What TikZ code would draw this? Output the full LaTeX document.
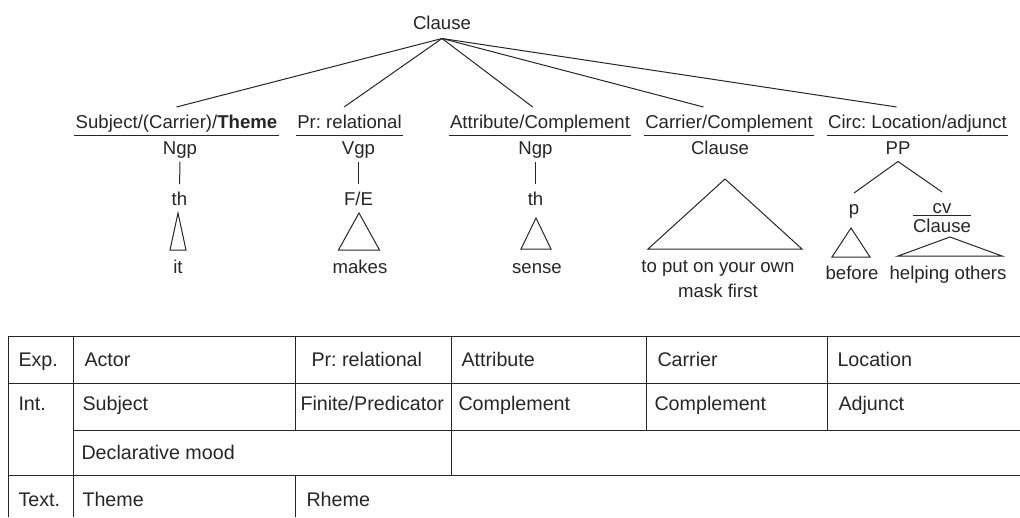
\documentclass[tikz,border=0pt]{standalone}
\usepackage{fontspec}
\setmainfont{Liberation Sans}
\usetikzlibrary{calc,positioning}
\frenchspacing

% roof triangle: apex x, apex y, half base, height
\newcommand{\roof}[4]{\draw (#1,#2) -- ++(-#3,#4) -- ++(2*#3,0) -- cycle;}

\begin{document}
\begin{tikzpicture}[
x=1pt,y=-1pt,
line width=1pt,draw=black!85,
tree/.style={font=\fontsize{18.6}{23}\selectfont,text=black!85,anchor=base,text height=13.5pt},
fn/.style={tree,text depth=0pt,inner xsep=1pt,inner ysep=7pt},
cls/.style={tree,text depth=4pt,inner xsep=0pt,inner ysep=3pt},
leaf/.style={tree,text depth=4pt,inner ysep=7pt},
word/.style={tree,text depth=4pt},
cell/.style={font=\fontsize{19.7}{23}\selectfont,text=black!85,anchor=base west,inner sep=0pt},
]
\useasboundingbox (0,0) rectangle (1020,517);

% tree
\node[cls,inner ysep=5pt] (root) at (442,29) {Clause};
\node[fn] (subj) at (176.5,128) {Subject/(Carrier)/\textbf{Theme}};
\node[fn] (pr) at (349.5,128) {Pr: relational};
\node[fn] (attr) at (540,128) {Attribute/Complement};
\node[fn] (carr) at (729,128) {Carrier/Complement};
\node[fn] (circ) at (917.5,128) {Circ: Location/adjunct};
\foreach \f/\t in {subj/0.5,pr/0.45,attr/0.46,carr/0.35,circ/0.385}{
  \draw (root.south) -- ($(\f.north west)!\t!(\f.north east)$);
  \draw (\f.south west) -- (\f.south east);
}
\node[cls] (ngpa) at (180,154) {Ngp};
\node[cls] (vgp) at (358.5,154) {Vgp};
\node[cls] (ngpb) at (535.5,154) {Ngp};
\node[cls] (clausea) at (720,154) {Clause};
\node[cls] (pp) at (898,154) {PP};

\node[leaf] (tha) at (179.5,205) {th};
\node[leaf] (fe) at (358.5,205) {F/E};
\node[leaf] (thb) at (535.5,205) {th};
\draw (ngpa) -- (tha);
\draw (vgp) -- (fe);
\draw (ngpb) -- (thb);

\node[leaf] (p) at (854,214) {p};
\node[leaf] (cv) at (942,213) {cv};
\node[cls] (clauseb) at (942,232) {Clause};
\draw (pp.south) -- (p.north);
\draw (pp.south) -- (cv.north);
\draw (clauseb.north west) -- (clauseb.north east);

\roof{178}{213}{8}{37}
\roof{359}{213}{20.5}{37}
\roof{536}{218}{15}{31}
\roof{725}{179}{77}{70}
\roof{851}{228}{19}{29}
\roof{950}{237}{52}{19}

\node[word] (it) at (178,273) {it};
\node[word] (makes) at (360,273) {makes};
\node[word] (sense) at (537,273) {sense};
\node[word] (put) at (718,272) {to put on your own};
\node[word,below=0pt of put] (mask) {mask first};
\node[word] (before) at (852,279) {before};
\node[word] (helping) at (948,279) {helping others};

% table
\draw (8,336) -- (1020,336) (8,383) -- (1020,383) (73,430) -- (1020,430) (8,475) -- (1020,475);
\draw (8,336) -- (8,517) (73,336) -- (73,517) (295,336) -- (295,430) (295,475) -- (295,517)
  (451,336) -- (451,475) (646,336) -- (646,430) (827,336) -- (827,430);

\node[cell] (exp) at (18,366) {Exp.};
\node[cell] (actor) at (84,366) {Actor};
\node[cell] (prrel) at (311,366) {Pr: relational};
\node[cell] (attrib) at (461,366) {Attribute};
\node[cell] (carrier) at (657,366) {Carrier};
\node[cell] (location) at (837,366) {Location};

\node[cell] (int) at (18,410) {Int.};
\node[cell] (subject) at (82,410) {Subject};
\node[cell] (finite) at (300,410) {Finite/Predicator};
\node[cell] (compa) at (458,410) {Complement};
\node[cell] (compb) at (654,410) {Complement};
\node[cell] (adjunct) at (838,410) {Adjunct};

\node[cell] (mood) at (81,459) {Declarative mood};

\node[cell] (text) at (18,506.5) {Text.};
\node[cell] (theme) at (82,506.5) {Theme};
\node[cell] (rheme) at (306,506.5) {Rheme};
\end{tikzpicture}
\end{document}
